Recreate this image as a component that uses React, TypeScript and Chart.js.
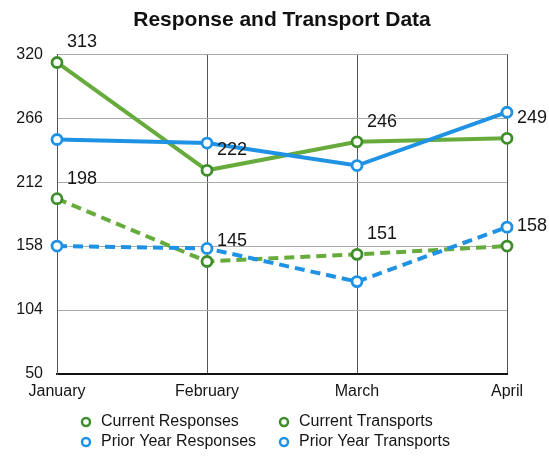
import React, { useEffect, useRef } from 'react';
import { Chart, registerables } from 'chart.js';

Chart.register(...registerables);

const months = ['January', 'February', 'March', 'April'];
const currentResponses = [313, 222, 246, 249];
const priorResponses = [248, 245, 226, 271];
const currentTransports = [198, 145, 151, 158];
const priorTransports = [158, 156, 128, 174];
const yTicks = [50, 104, 158, 212, 266, 320];

const GREEN = '#66ab3c';
const GREEN_DARK = '#3e8e2c';
const BLUE = '#1f92e4';
const FONT = 'Arial, "Liberation Sans", Helvetica, sans-serif';

const legendItems = [
  { text: 'Current Responses', color: GREEN_DARK, col: 0, row: 0 },
  { text: 'Current Transports', color: GREEN_DARK, col: 1, row: 0 },
  { text: 'Prior Year Responses', color: BLUE, col: 0, row: 1 },
  { text: 'Prior Year Transports', color: BLUE, col: 1, row: 1 },
];

const valueLabels = {
  id: 'valueLabels',
  afterDatasetsDraw(chart: any) {
    const ctx = chart.ctx;
    ctx.save();
    ctx.font = `18px ${FONT}`;
    ctx.fillStyle = '#151515';
    ctx.textAlign = 'left';
    ctx.textBaseline = 'middle';
    chart.data.datasets.forEach((ds: any, di: number) => {
      if (!ds.showValues) return;
      const meta = chart.getDatasetMeta(di);
      meta.data.forEach((pt: any, i: number) => {
        ctx.fillText(String(ds.data[i]), pt.x + 10, pt.y - 20);
      });
    });
    ctx.restore();
  },
};

const customLegend = {
  id: 'customLegend',
  afterDraw(chart: any) {
    const ctx = chart.ctx;
    ctx.save();
    ctx.font = `16px ${FONT}`;
    ctx.textAlign = 'left';
    ctx.textBaseline = 'middle';
    const colX = [86, 284];
    const rowY = [422, 442];
    legendItems.forEach((it) => {
      const x = colX[it.col];
      const y = rowY[it.row];
      ctx.beginPath();
      ctx.arc(x, y, 4, 0, Math.PI * 2);
      ctx.fillStyle = '#fff';
      ctx.fill();
      ctx.lineWidth = 2.5;
      ctx.strokeStyle = it.color;
      ctx.stroke();
      ctx.fillStyle = '#151515';
      ctx.fillText(it.text, x + 15, y);
    });
    ctx.restore();
  },
};

export default function App() {
  const ref = useRef<HTMLCanvasElement>(null);

  useEffect(() => {
    if (!ref.current) return;
    const common = {
      fill: false,
      tension: 0,
      borderWidth: 4,
      pointRadius: 5,
      pointHoverRadius: 5,
      pointBorderWidth: 2.8,
      pointBackgroundColor: '#ffffff',
    };
    const chart = new Chart(ref.current, {
      type: 'line',
      data: {
        labels: months,
        datasets: [
          {
            ...common,
            label: 'Prior Year Transports',
            data: priorTransports,
            borderColor: BLUE,
            pointBorderColor: BLUE,
            borderDash: [10, 6],
          } as any,
          {
            ...common,
            label: 'Current Transports',
            data: currentTransports,
            borderColor: GREEN,
            pointBorderColor: GREEN_DARK,
            borderDash: [10, 6],
            showValues: true,
          } as any,
          {
            ...common,
            label: 'Prior Year Responses',
            data: priorResponses,
            borderColor: BLUE,
            pointBorderColor: BLUE,
          } as any,
          {
            ...common,
            label: 'Current Responses',
            data: currentResponses,
            borderColor: GREEN,
            pointBorderColor: GREEN_DARK,
            showValues: true,
          } as any,
        ],
      },
      options: {
        animation: false,
        responsive: true,
        maintainAspectRatio: false,
        layout: { padding: { top: 0, right: 42, bottom: 59, left: 0 } },
        plugins: {
          legend: { display: false },
          tooltip: { enabled: false },
          title: {
            display: true,
            text: 'Response and Transport Data',
            fullSize: false,
            color: '#111',
            font: { family: FONT, size: 21, weight: 'bold' },
            padding: { top: 8, bottom: 21 },
          },
        },
        scales: {
          x: {
            type: 'category',
            offset: false,
            grid: { color: '#555', lineWidth: 1, drawTicks: false },
            border: { display: true, color: '#111', width: 2 },
            ticks: {
              color: '#151515',
              font: { family: FONT, size: 16 },
              padding: 8,
              maxRotation: 0,
              autoSkip: false,
            },
            afterFit(scale: any) {
              scale.height = 26;
            },
          },
          y: {
            min: 50,
            max: 320,
            grid: { color: '#aaa', lineWidth: 1, drawTicks: false },
            border: { display: true, color: '#555', width: 1 },
            afterBuildTicks(scale: any) {
              scale.ticks = yTicks.map((v) => ({ value: v }));
            },
            ticks: {
              color: '#151515',
              font: { family: FONT, size: 16 },
              padding: 14,
            },
            afterFit(scale: any) {
              scale.width = 57;
            },
          },
        },
      } as any,
      plugins: [valueLabels, customLegend],
    });
    return () => chart.destroy();
  }, []);

  return (
    <div
      style={{
        position: 'fixed',
        left: 0,
        top: 0,
        width: 549,
        height: 459,
        background: '#fff',
      }}
    >
      <canvas ref={ref} />
    </div>
  );
}
